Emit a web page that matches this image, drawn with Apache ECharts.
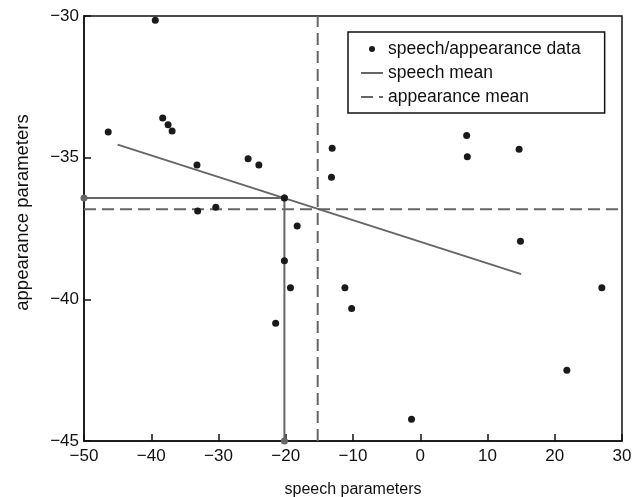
<!DOCTYPE html>
<html>
<head>
<meta charset="utf-8">
<script src="https://cdn.jsdelivr.net/npm/echarts@6/dist/echarts.min.js"></script>
<style>
  html, body { margin: 0; padding: 0; background: #fff; }
  #chart { width: 644px; height: 497px; }
</style>
</head>
<body>
<div id="chart"></div>
<script>
// speech / appearance observations
var speechVals = [-39.4, -46.4, -38.3, -37.5, -36.9, -33.2, -25.6, -24.0, -33.1, -30.4,
    -18.3, -13.1, -13.2, 6.9, 7.0, 14.7, 14.9, -20.2, -19.3, -21.5, -11.2, -10.2,
    27.0, 21.8, -1.3, -20.2];
var appearanceVals = [-30.15, -34.09, -33.6, -33.84, -34.06, -35.26, -35.04, -35.26, -36.88, -36.75,
    -37.41, -34.67, -35.69, -34.22, -34.97, -34.7, -37.95, -38.64, -39.59, -40.84, -39.59, -40.32,
    -39.59, -42.5, -44.23, -36.42];

// speech mean regression line (x, y endpoints)
var speechMeanX = [-45, 15];
var speechMeanY = [-34.54, -39.11];

// projection of the selected point onto the axes
var projX = [-50, -20.2, -20.2];
var projY = [-36.42, -36.42, -45];

// appearance mean (dashed cross)
var appearanceMeanX = -15.25;
var appearanceMeanY = -36.82;

var xTicks = [-50, -40, -30, -20, -10, 0, 10, 20, 30];
var yTicks = [-45, -40, -35, -30];

function zip(a, b) {
    var out = [];
    for (var i = 0; i < a.length; i++) out.push([a[i], b[i]]);
    return out;
}
function minus(v) {
    return String(v).replace('-', '\u2212');
}

var gray = '#666666';
var font = 'Liberation Sans, Arial, Helvetica, sans-serif';

var myChart = echarts.init(document.getElementById('chart'));
var option = {
    animation: false,
    backgroundColor: '#fff',
    grid: {
        left: 84, right: 22, top: 16, bottom: 56,
        containLabel: false, outerBoundsMode: 'none',
        show: true, borderColor: '#111', borderWidth: 1.5
    },
    legend: {
        left: 348, top: 32,
        orient: 'vertical',
        backgroundColor: '#fff',
        borderColor: '#111', borderWidth: 1.5, borderRadius: 0,
        padding: [8, 24, 7, 12],
        itemGap: 6,
        itemWidth: 22, itemHeight: 6,
        textStyle: { fontFamily: font, fontSize: 17.5, color: '#111' },
        data: [
            { name: 'speech/appearance data' },
            { name: 'speech mean', itemStyle: { opacity: 0 } },
            { name: 'appearance mean', itemStyle: { opacity: 0 } }
        ]
    },
    xAxis: {
        type: 'value',
        min: xTicks[0], max: xTicks[xTicks.length - 1], interval: 10,
        name: 'speech parameters',
        nameLocation: 'middle', nameGap: 41,
        nameTextStyle: { fontFamily: font, fontSize: 16, color: '#111' },
        splitLine: { show: false },
        axisLine: { onZero: false, lineStyle: { color: '#111', width: 1.5 } },
        axisTick: { inside: true, length: 7, lineStyle: { color: '#111', width: 1.5 } },
        axisLabel: { fontFamily: font, fontSize: 17, color: '#111', margin: 7, formatter: minus }
    },
    yAxis: {
        type: 'value',
        min: yTicks[0], max: yTicks[yTicks.length - 1], interval: 5,
        name: 'appearance parameters',
        nameLocation: 'middle', nameGap: 52,
        nameTextStyle: { fontFamily: font, fontSize: 18.5, color: '#111', padding: [0, 0, 0, 32] },
        splitLine: { show: false },
        axisLine: { onZero: false, lineStyle: { color: '#111', width: 1.5 } },
        axisTick: { inside: true, length: 7, lineStyle: { color: '#111', width: 1.5 } },
        axisLabel: { fontFamily: font, fontSize: 17, color: '#111', margin: 5, formatter: minus }
    },
    series: [
        {
            name: 'appearance mean',
            type: 'line',
            symbol: 'none',
            data: [[xTicks[0], appearanceMeanY], [xTicks[xTicks.length - 1], appearanceMeanY]],
            lineStyle: { color: gray, width: 2, type: [12, 6] },
            itemStyle: { color: gray },
            z: 2
        },
        {
            name: 'appearance mean',
            type: 'line',
            symbol: 'none',
            data: [[appearanceMeanX, yTicks[0]], [appearanceMeanX, yTicks[yTicks.length - 1]]],
            lineStyle: { color: gray, width: 2, type: [12, 6] },
            itemStyle: { color: gray },
            z: 2
        },
        {
            name: 'speech mean',
            type: 'line',
            symbol: 'none',
            data: zip(speechMeanX, speechMeanY),
            lineStyle: { color: gray, width: 2 },
            itemStyle: { color: gray },
            z: 3
        },
        {
            name: 'projection',
            type: 'line',
            symbol: 'circle',
            symbolSize: 7,
            data: zip(projX, projY),
            lineStyle: { color: gray, width: 2 },
            itemStyle: { color: gray },
            z: 3
        },
        {
            name: 'speech/appearance data',
            type: 'scatter',
            symbol: 'circle',
            symbolSize: 7,
            data: zip(speechVals, appearanceVals),
            itemStyle: { color: '#1a1a1a', opacity: 1 },
            z: 4
        }
    ]
};
myChart.setOption(option);
</script>
</body>
</html>
